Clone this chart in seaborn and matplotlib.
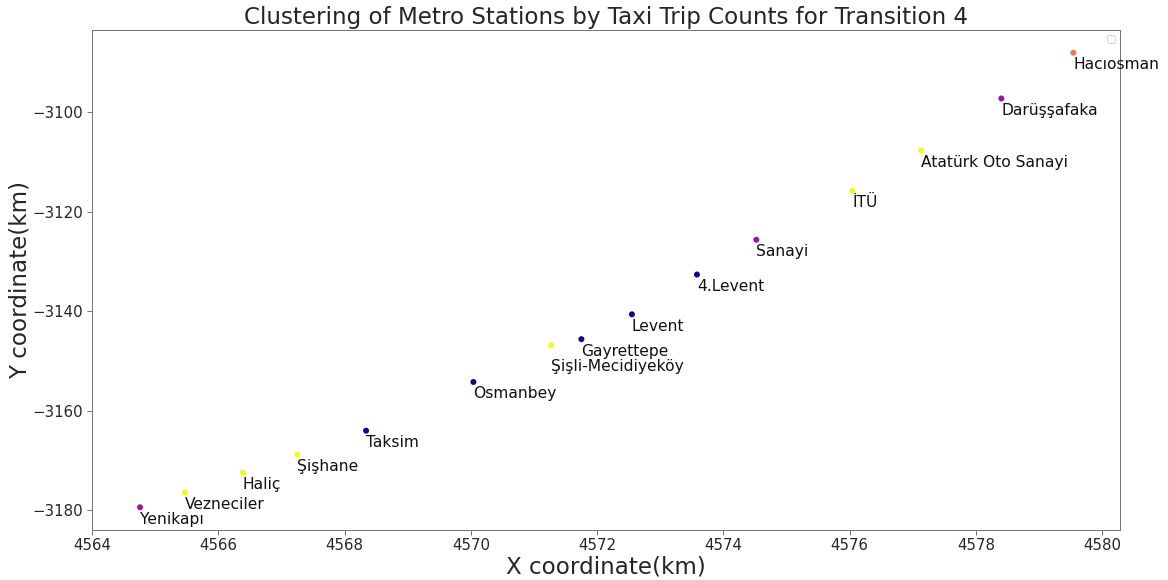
import matplotlib
matplotlib.use("Agg")
import matplotlib.pyplot as plt
import seaborn as sns
import pandas as pd
import warnings
warnings.filterwarnings("ignore")

stations = ["Hacıosman", "Darüşşafaka", "Atatürk Oto Sanayi", "İTÜ", "Sanayi",
            "4.Levent", "Levent", "Gayrettepe", "Şişli-Mecidiyeköy", "Osmanbey",
            "Taksim", "Şişhane", "Haliç", "Vezneciler", "Yenikapı"]
x_km = [4579.54, 4578.40, 4577.13, 4576.04, 4574.52,
        4573.58, 4572.55, 4571.75, 4571.27, 4570.04,
        4568.34, 4567.25, 4566.39, 4565.47, 4564.76]
y_km = [-3088.0, -3097.2, -3107.6, -3115.8, -3125.6,
        -3132.6, -3140.6, -3145.6, -3146.8, -3154.2,
        -3164.0, -3168.8, -3172.4, -3176.4, -3179.4]
cluster = [2, 1, 3, 3, 1, 0, 0, 0, 3, 0, 0, 3, 3, 3, 1]

df = pd.DataFrame({"station": stations, "x": x_km, "y": y_km, "cluster": cluster})

sns.set_style("ticks")
plt.rcParams["font.family"] = ["DejaVu Sans"]

fig = plt.figure(figsize=(1168 / 72, 580 / 72), dpi=72)
ax = fig.add_axes([92 / 1168, 1 - 530 / 580, (1120 - 92) / 1168, 500 / 580])

sns.scatterplot(data=df, x="x", y="y", hue="cluster", palette="plasma",
                hue_norm=(0, 3), s=36, linewidth=0, legend=False, ax=ax)

label_offsets = {"Şişli-Mecidiyeköy": -26}
for name, xv, yv in zip(stations, x_km, y_km):
    ax.annotate(name, (xv, yv), xytext=(0, label_offsets.get(name, -16.5)),
                textcoords="offset points", ha="left", va="baseline",
                fontsize=15.5, color="#111111")

ax.set_title("Clustering of Metro Stations by Taxi Trip Counts for Transition 4",
             fontsize=23, pad=6)
ax.set_xlabel("X coordinate(km)", fontsize=23, labelpad=2)
ax.set_ylabel("Y coordinate(km)", fontsize=23, labelpad=1)
ax.tick_params(labelsize=15, length=5, color="#555555")
ax.set_xticks(range(4564, 4581, 2))
ax.set_yticks(range(-3180, -3099, 20))
for sp in ax.spines.values():
    sp.set_visible(True)
    sp.set_color("#777777")
    sp.set_linewidth(1.0)
ax.legend(loc="upper right")

fig.savefig("out.png", dpi=72)
